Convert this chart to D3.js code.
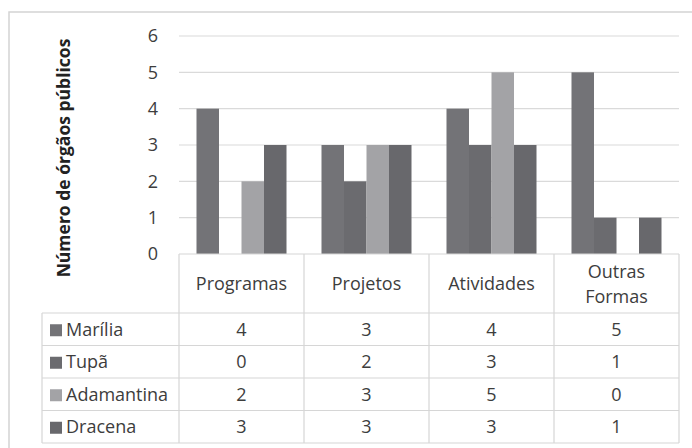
<!DOCTYPE html>
<html>
<head>
<meta charset="utf-8">
<script src="https://cdn.jsdelivr.net/npm/d3@7"></script>
<style>
  body { margin: 0; background: #fff; }
  text { font-family: "Open Sans", sans-serif; fill: #3d3d3d; }
</style>
</head>
<body>
<svg id="chart" width="692" height="448"></svg>
<script>
var categories = ["Programas", "Projetos", "Atividades", "Outras Formas"],
    series = ["Marília", "Tupã", "Adamantina", "Dracena"],
    colors = ["#737377", "#6b6b6f", "#a3a3a6", "#68686c"],
    yTicks = [0, 1, 2, 3, 4, 5, 6];

// one array per city, in category order
var marilia = [4, 3, 4, 5],
    tupa = [0, 2, 3, 1],
    adamantina = [2, 3, 5, 0],
    dracena = [3, 3, 3, 1];
var values = [marilia, tupa, adamantina, dracena];

var svg = d3.select("#chart");

var x = d3.scaleBand().domain(categories).range([179, 679]);
var xs = d3.scaleBand().domain(series).range([17.5, x.bandwidth() - 17.5]);
var y = d3.scaleLinear().domain([0, 6]).range([254, 36]);
var row = d3.scaleBand().domain(series).range([313, 443]);

// outer frame
svg.append("rect")
  .attr("x", 9).attr("y", 12)
  .attr("width", 700).attr("height", 460)
  .attr("fill", "none")
  .attr("stroke", "#d4d4d4")
  .attr("stroke-width", 1.5)

// gridlines
svg.append("g").selectAll("line").data(yTicks.filter(function(d) { return d > 0; })).enter().append("line")
  .attr("x1", 179).attr("x2", 679)
  .attr("y1", function(d) { return y(d); })
  .attr("y2", function(d) { return y(d); })
  .attr("stroke", "#dadada")
  .attr("stroke-width", 1.2)

// y tick labels
svg.append("g").selectAll("text").data(yTicks).enter().append("text")
  .attr("x", 153)
  .attr("y", function(d) { return y(d); })
  .attr("dy", "0.36em")
  .attr("text-anchor", "middle")
  .attr("font-size", 18)
  .text(function(d) { return d; })

svg.append("text")
  .attr("transform", "translate(70,158) rotate(-90)")
  .attr("text-anchor", "middle")
  .attr("font-size", 17.5)
  .attr("font-weight", "bold")
  .style("fill", "#222")
  .text("Número de órgãos públicos")

// bars
var groups = svg.append("g").selectAll("g").data(categories).enter().append("g")
  .attr("transform", function(c) { return "translate(" + x(c) + ",0)"; });

groups.selectAll("rect").data(function(c, ci) {
    return series.map(function(s, si) { return {s: s, i: si, v: values[si][ci]}; });
  }).enter().append("rect")
  .attr("x", function(d) { return xs(d.s); })
  .attr("width", xs.bandwidth())
  .attr("y", function(d) { return y(d.v); })
  .attr("height", function(d) { return y(0) - y(d.v); })
  .attr("fill", function(d) { return colors[d.i]; })

// data table
var table = svg.append("g");
var lineColor = "#d6d6d6";

// vertical lines of the table
x.domain().concat([null]).forEach(function(c) {
  var xx = c === null ? 679 : x(c);
  table.append("line")
    .attr("x1", xx).attr("x2", xx)
    .attr("y1", y(0)).attr("y2", 443)
    .attr("stroke", lineColor).attr("stroke-width", 1.2)
});
table.append("line")
  .attr("x1", 42).attr("x2", 42)
  .attr("y1", 313).attr("y2", 443)
  .attr("stroke", lineColor).attr("stroke-width", 1.2)

// horizontal lines
table.append("line")
  .attr("x1", 179).attr("x2", 679)
  .attr("y1", y(0)).attr("y2", y(0))
  .attr("stroke", lineColor).attr("stroke-width", 1.2)
series.concat([null]).forEach(function(s) {
  var yy = s === null ? 443 : row(s);
  table.append("line")
    .attr("x1", 42).attr("x2", 679)
    .attr("y1", yy).attr("y2", yy)
    .attr("stroke", lineColor).attr("stroke-width", 1.2)
});

// header labels
var header = table.append("g").selectAll("text").data(categories).enter().append("text")
  .attr("x", function(c) { return x(c) + x.bandwidth() / 2; })
  .attr("y", 284)
  .attr("text-anchor", "middle")
  .attr("font-size", 18)

header.each(function(c) {
  var words = c.split(" ");
  var t = d3.select(this);
  if (words.length == 1) {
    t.append("tspan").attr("dy", "0.36em").text(c);
  } else {
    t.append("tspan").attr("x", x(c) + x.bandwidth() / 2).attr("dy", "-0.36em").text(words[0]);
    t.append("tspan").attr("x", x(c) + x.bandwidth() / 2).attr("dy", "1.4em").text(words[1]);
  }
});

// legend rows
var rows = table.append("g").selectAll("g").data(series).enter().append("g")
  .attr("transform", function(s) { return "translate(0," + (row(s) + row.bandwidth() / 2) + ")"; });

rows.append("rect")
  .attr("x", 50).attr("y", -5)
  .attr("width", 12).attr("height", 12)
  .attr("fill", function(s, i) { return colors[i]; })

rows.append("text")
  .attr("x", 66)
  .attr("dy", "0.36em")
  .attr("font-size", 18)
  .text(function(s) { return s; })

rows.selectAll(".cell").data(function(s, si) { return values[si]; }).enter().append("text")
  .attr("class", "cell")
  .attr("x", function(v, ci) { return x(categories[ci]) + x.bandwidth() / 2; })
  .attr("dy", "0.36em")
  .attr("text-anchor", "middle")
  .attr("font-size", 18)
  .text(function(v) { return v; })
</script>
</body>
</html>
